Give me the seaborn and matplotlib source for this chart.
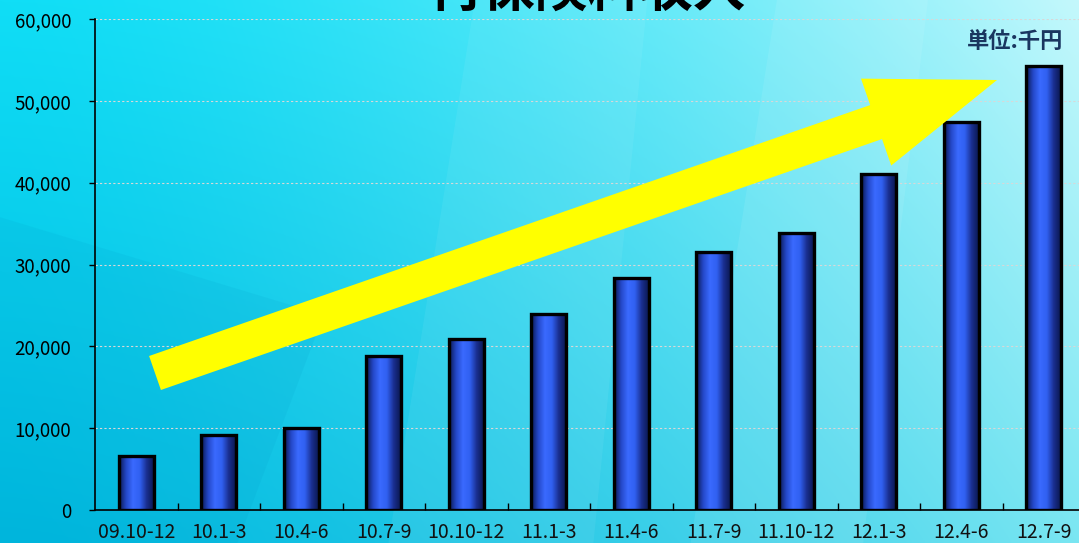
import numpy as np
import pandas as pd
import matplotlib.pyplot as plt
import matplotlib.patches as mpatches
import matplotlib.colors as mcolors
from matplotlib.transforms import IdentityTransform
from matplotlib.ticker import FuncFormatter, MultipleLocator
import seaborn as sns

# data
periods = ['09.10-12', '10.1-3', '10.4-6', '10.7-9', '10.10-12', '11.1-3',
           '11.4-6', '11.7-9', '11.10-12', '12.1-3', '12.4-6', '12.7-9']
premium = [6600, 9200, 10000, 18800, 20900, 23900,
           28400, 31500, 33900, 41000, 47400, 54200]
title = '再保険料収入'
unit_label = '単位:千円'

sns.set_theme(style='white')
plt.rcParams['font.family'] = ['Noto Sans CJK JP', 'DejaVu Sans']

W, H = 1079, 543
fig = plt.figure(figsize=(W / 100, H / 100), dpi=100)

# background gradient (bilinear between four corner colours)
bg = fig.add_axes([0, 0, 1, 1], zorder=0)
bg.set_axis_off()
xx, yy = np.meshgrid(np.linspace(0, 1, 400), np.linspace(0, 1, 200))
tl = np.array(mcolors.to_rgb('#10def6'))
bl = np.array(mcolors.to_rgb('#00bae0'))
tr = np.array(mcolors.to_rgb('#c4f8fc'))
br = np.array(mcolors.to_rgb('#7ae6f2'))
u = (xx ** 1.5)[..., None]
v = yy[..., None]
img = (1 - u) * ((1 - v) * tl + v * bl) + u * ((1 - v) * tr + v * br)
bg.imshow(img, extent=[0, 1, 0, 1], aspect='auto', origin='upper')
# faint faceted shapes
facets = [
    [(0.0, 0.0), (0.0, 0.60), (0.30, 0.42), (0.22, 0.0)],
    [(0.36, 0.0), (0.44, 1.0), (0.60, 1.0), (0.55, 0.0)],
    [(0.64, 0.0), (0.72, 1.0), (0.86, 1.0), (0.80, 0.0)],
]
for f, c, a in zip(facets, ['#0090c0', 'white', 'white'], [0.10, 0.06, 0.08]):
    bg.add_patch(mpatches.Polygon(f, closed=True, facecolor=c,
                                  edgecolor='none', alpha=a))
bg.set_xlim(0, 1)
bg.set_ylim(0, 1)

# main axes (extends slightly past the right edge like the original)
x0, x1 = 95 / W, 1085 / W
y0, y1 = (H - 510) / H, (H - 19) / H
ax = fig.add_axes([x0, y0, x1 - x0, y1 - y0], zorder=2)
ax.patch.set_alpha(0)

df = pd.DataFrame({'period': periods, 'premium': premium})
sns.barplot(data=df, x='period', y='premium', ax=ax, width=0.42,
            color='#3366ff', zorder=3)

# gradient fill in each bar
bar_cmap = mcolors.LinearSegmentedColormap.from_list(
    'bar', ['#0a1850', '#2448c8', '#3a6aff', '#3060f0', '#1a2f90', '#0a1850'])
grad = np.linspace(0, 1, 64).reshape(1, -1)
for p in ax.patches:
    bx, by = p.get_x(), p.get_y()
    bw, bh = p.get_width(), p.get_height()
    im = ax.imshow(grad, cmap=bar_cmap, aspect='auto', origin='lower',
                   extent=[bx, bx + bw, by, by + bh], zorder=3)
    im.set_clip_path(p)
    p.set_facecolor('none')
    p.set_edgecolor('black')
    p.set_linewidth(2.4)
    p.set_zorder(4)
ax.set_aspect('auto')
ax.set_xlim(-0.5, len(periods) - 0.5)
ax.set_ylim(0, 60000)

# grid and axes styling
ax.yaxis.set_major_locator(MultipleLocator(10000))
ax.yaxis.set_major_formatter(FuncFormatter(lambda v, _: f'{int(v):,}'))
ax.grid(axis='y', color='#d8d8d8', linestyle=(0, (2, 2)), linewidth=0.8, zorder=1)
ax.set_axisbelow(True)
for s in ['top', 'right']:
    ax.spines[s].set_visible(False)
for s in ['left', 'bottom']:
    ax.spines[s].set_color('black')
    ax.spines[s].set_linewidth(1.2)
ax.tick_params(axis='y', which='major', direction='out', length=4, width=1,
               color='black', labelsize=13.5, labelcolor='black', pad=13, left=True)
ax.set_xticks(range(len(periods)))
ax.set_xticklabels(periods)
ax.tick_params(axis='x', which='major', length=0, labelsize=14, pad=9,
               labelcolor='#111111')
ax.set_xticks(np.arange(0.5, len(periods) - 0.5, 1), minor=True)
ax.tick_params(axis='x', which='minor', direction='in', length=5, width=1,
               color='black', bottom=True)
ax.set_xlabel('')
ax.set_ylabel('')

# yellow arrow (decoration), in pixel coordinates
tail = (155, H - 373)
tip = (997, H - 80)
arrow = mpatches.FancyArrow(tail[0], tail[1], tip[0] - tail[0], tip[1] - tail[1],
                            width=36, head_width=92, head_length=128,
                            length_includes_head=True, transform=IdentityTransform(),
                            facecolor='#ffff00', edgecolor='none', zorder=3)
fig.patches.append(arrow)
arrow.set_figure(fig)

# unit label and (cropped) title
fig.text(1015 / W, 1 - 42 / H, unit_label, ha='center', va='center',
         fontsize=16, fontweight='bold', color='#1a3660')
fig.text(588 / W, 1 - 6 / H, title, ha='center', va='baseline',
         fontsize=38, fontweight='bold', color='black')

fig.savefig('out.png', dpi=100)
